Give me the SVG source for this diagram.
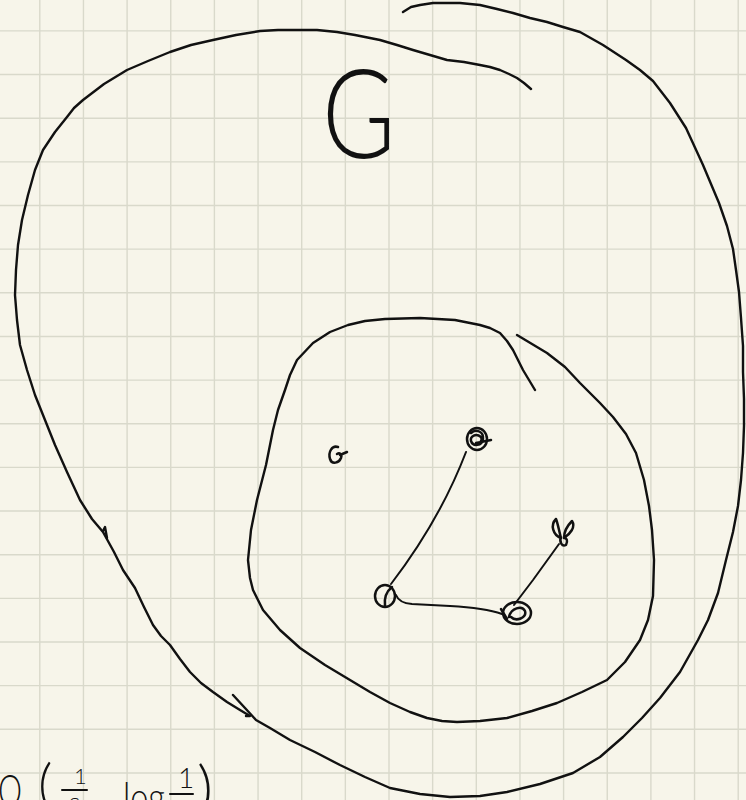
<svg xmlns="http://www.w3.org/2000/svg" width="746" height="800" viewBox="0 0 746 800">
<defs>
<style>
.pen{fill:none;stroke:#111;stroke-width:2.4;stroke-linecap:round;stroke-linejoin:round}
.thin{fill:none;stroke:#111;stroke-width:2;stroke-linecap:round;stroke-linejoin:round}
.node{fill:none;stroke:#111;stroke-width:2.5;stroke-linecap:round;stroke-linejoin:round}
.grid{fill:none;stroke:#d9d9cb;stroke-width:1.4}
.hand{font-family:Lato,"Liberation Sans",sans-serif;font-weight:300;fill:#111111;stroke:none}
</style>
</defs>
<rect x="0" y="0" width="746" height="800" fill="#f7f5ea"/>
<path class="grid" d="M39.8,0V800M83.45,0V800M127.1,0V800M170.75,0V800M214.4,0V800M258.05,0V800M301.7,0V800M345.35,0V800M389,0V800M432.65,0V800M476.3,0V800M519.95,0V800M563.6,0V800M607.25,0V800M650.9,0V800M694.55,0V800M738.2,0V800M0,30.9H746M0,74.55H746M0,118.2H746M0,161.85H746M0,205.5H746M0,249.15H746M0,292.8H746M0,336.45H746M0,380.1H746M0,423.75H746M0,467.4H746M0,511.05H746M0,554.7H746M0,598.35H746M0,642H746M0,685.65H746M0,729.3H746M0,772.95H746"/>

<g id="region-G">
<path class="pen" d="M531,89 L524,83 517,78 509,74 500,70 490,67 480,65 464,62 447,60 430,55 413,50 397,45 380,40 370,38 355,35 337,32 317,30 297,30 278,30 260,31 236,35 213,40 191,45 170,52 148,61 127,70 104,84 83,100 74,108 67,117 55,132 43,150 35,170 28,195 22,220 18,245 16,270 15,295 17,320 20,345 27,370 35,395 45,420 55,445 67,472 80,500 92,519 103,532 114,552 123,570 135,588 144,607 153,625 161,636 170,645 180,659 190,672 201,683 213,692 227,702 240,710 250,716 246,716"/>
<path class="pen" d="M103,531 L105,527 L107,538"/>
<path class="pen" d="M233,695 L245,708 256,720 270,728 290,740 315,752 340,765 365,777 390,788 420,794 450,797 480,796 507,792 540,784 573,773 600,757 623,737 642,718 660,698 680,672 698,640 708,620 718,593 726,560 733,532 738,506 741,480 743,453 744,426 744,399 743,372 743,346 741,318 739,292 736,270 733,249 727,226 719,203 703,165 686,128 670,103 653,81 640,70 626,60 603,45 580,32 563,27 547,22 530,18 513,13 497,9 480,5 460,3 447,3 433,3 420,5 411,7 403,12"/>
<text class="hand" fill="#111111" transform="translate(322,158) scale(0.8,1)" font-size="125">G</text>
</g>

<g id="region-inner">
<path class="pen" d="M535,390 L529,380 523,370 518,360 513,350 507,341 500,333 490,328 480,325 455,320 420,318 385,319 365,321 348,325 330,332 313,343 297,360 290,375 285,390 278,410 273,430 266,465 257,500 251,530 248,560 250,578 253,590 263,610 280,630 300,648 325,665 350,680 370,692 390,703 410,712 427,718 442,721 457,722 480,721 507,718 532,711 557,703 582,692 607,680 625,662 640,640 648,620 653,596 654,560 652,530 649,506 644,480 636,453 626,434 613,417 600,403 586,389 580,383 565,367 547,353 532,344 517,335"/>
</g>

<g id="connectors">
<path class="thin" d="M391,584 Q440,520 466,452"/>
<path class="thin" d="M396,595 Q399,603 412,604 L450,606 Q485,608 502,614"/>
<path class="thin" d="M559,544 L533,580 L514,605"/>
</g>

<g id="node-a">
<path class="node" d="M338,447 C332,445 328,452 330,459 C332,465 339,463 341,458 C342,455 340,452 337,454 M340,455 L347,452"/>
</g>
<g id="node-b">
<ellipse class="node" cx="477" cy="439" rx="10" ry="11"/>
<path class="node" d="M471,433 C476,428 484,432 483,439 C482,446 473,447 471,441 C470,436 476,433 481,437 C483,440 480,444 476,443 L491,440"/>
</g>
<g id="node-c">
<path class="node" d="M556,519 C550,525 553,535 561,538 C559,531 558,524 556,519 M564,538 C570,534 576,527 572,521 C567,526 564,532 564,538 M561,537 C559,542 562,547 566,545 C568,541 567,538 564,538"/>
</g>
<g id="node-d">
<ellipse class="node" cx="385" cy="596" rx="10" ry="11"/>
<path class="node" d="M392,587 C387,591 384,598 385,606"/>
</g>
<g id="node-e">
<ellipse class="node" cx="517" cy="613" rx="14" ry="11"/>
<path class="node" d="M509,617 C511,608 522,605 525,611 C527,618 516,622 511,617 M501,609 L507,619"/>
</g>

<g id="formula">
<text class="hand" fill="#111111" x="-2" y="806" font-size="44" textLength="24" lengthAdjust="spacingAndGlyphs">O</text>
<text class="hand" fill="#111111" x="38" y="804" font-size="56">(</text>
<text class="hand" fill="#111111" x="74" y="784" font-size="22">1</text>
<path class="thin" d="M62,790 L87,790"/>
<text class="hand" fill="#111111" x="69" y="810" font-size="24">ε</text>
<text class="hand" fill="#111111" x="123" y="812" font-size="42" textLength="42" lengthAdjust="spacingAndGlyphs">log</text>
<text class="hand" fill="#111111" x="178" y="788" font-size="28">1</text>
<path class="thin" d="M170,794 L193,794"/>
<text class="hand" fill="#111111" x="197" y="810" font-size="62">)</text>
</g>
</svg>
